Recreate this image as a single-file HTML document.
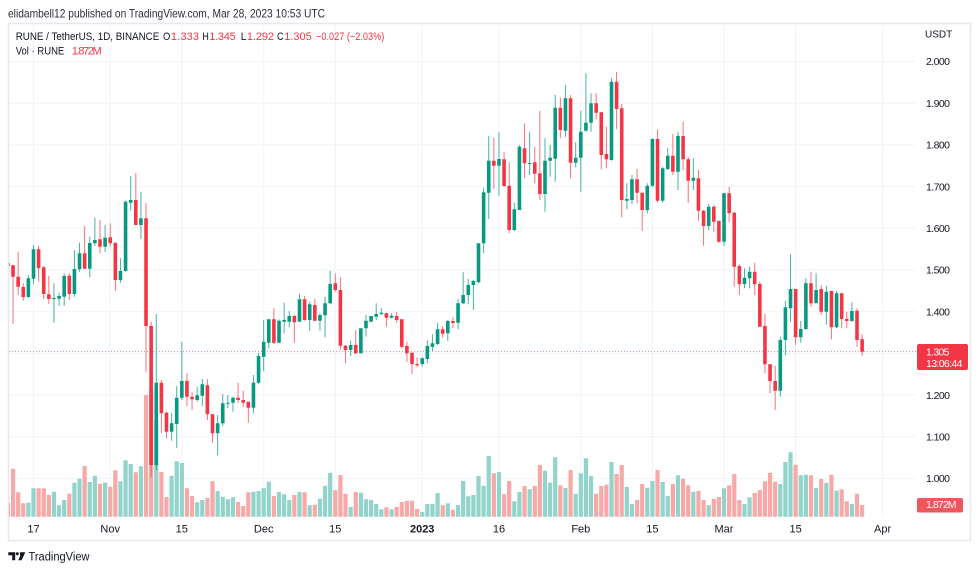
<!DOCTYPE html>
<html><head><meta charset="utf-8"><style>
html,body{margin:0;padding:0;background:#fff;width:980px;height:571px;overflow:hidden}
svg{display:block;font-family:"Liberation Sans",Arial,sans-serif}
</style></head><body>
<svg id="s" width="980" height="571" viewBox="0 0 980 571" xmlns="http://www.w3.org/2000/svg">
<rect width="980" height="571" fill="#fff"/>
<defs><clipPath id="pc"><rect x="9" y="24" width="907" height="493"/></clipPath></defs>
<g stroke="#f0f3fa" stroke-width="1">
<path d="M9 61.5H916M9 103.2H916M9 144.9H916M9 186.6H916M9 228.3H916M9 270H916M9 311.7H916M9 353.4H916M9 395.1H916M9 436.8H916M9 478.5H916"/>
<path d="M33.5 24V517M110.2 24V517M181.8 24V517M263.7 24V517M335.3 24V517M422.2 24V517M499 24V517M580.8 24V517M652.4 24V517M724 24V517M795.6 24V517M882.6 24V517"/>
</g>
<rect x="8.5" y="23.5" width="962" height="517" fill="none" stroke="#e6e8ee" stroke-width="1.5"/>
<g clip-path="url(#pc)">
<path id="vt" fill="#92d3cc"/>
<path id="vp" fill="#f7a9a7"/>
<path d="M9 351.5H916" stroke="#f23645" stroke-width="1" stroke-dasharray="1 2" opacity="0.55"/>
<path id="gw" stroke="#089981" stroke-width="1" fill="none" opacity="0.75"/>
<path id="rw" stroke="#f23645" stroke-width="1" fill="none" opacity="0.7"/>
<path id="gb" fill="#089981"/>
<path id="rb" fill="#f23645"/>
</g>
<g fill="#131722" font-size="10.5">
<text x="925" y="37.5" font-size="10">USDT</text>
<text x="926" y="65.2" textLength="24">2.000</text>
<text x="926" y="106.9" textLength="24">1.900</text>
<text x="926" y="148.6" textLength="24">1.800</text>
<text x="926" y="190.3" textLength="24">1.700</text>
<text x="926" y="232" textLength="24">1.600</text>
<text x="926" y="273.7" textLength="24">1.500</text>
<text x="926" y="315.4" textLength="24">1.400</text>
<text x="926" y="398.8" textLength="24">1.200</text>
<text x="926" y="440.5" textLength="24">1.100</text>
<text x="926" y="482.2" textLength="24">1.000</text>
</g>
<rect x="917" y="344" width="51" height="26" rx="2" fill="#f23645"/>
<text x="926" y="355.5" font-size="10.5" fill="#fff" textLength="23.5">1.305</text>
<text x="926" y="367" font-size="10.5" fill="#fff" textLength="36.5">13:06:44</text>
<rect x="917" y="498" width="46" height="14.5" rx="2" fill="#f0575d"/>
<text x="926" y="507.8" font-size="10.5" fill="#fff" textLength="30.5">1.872M</text>
<g fill="#131722" font-size="11" text-anchor="middle">
<text x="33.5" y="532.5">17</text>
<text x="110.2" y="532.5">Nov</text>
<text x="181.8" y="532.5">15</text>
<text x="263.7" y="532.5">Dec</text>
<text x="335.3" y="532.5">15</text>
<text x="422.2" y="532.5" font-weight="bold">2023</text>
<text x="499" y="532.5">16</text>
<text x="580.8" y="532.5">Feb</text>
<text x="652.4" y="532.5">15</text>
<text x="724" y="532.5">Mar</text>
<text x="795.6" y="532.5">15</text>
<text x="882.6" y="532.5">Apr</text>
</g>
<text x="8" y="17.5" font-size="12" fill="#2a2e39" textLength="317" lengthAdjust="spacingAndGlyphs">elidambell12 published on TradingView.com, Mar 28, 2023 10:53 UTC</text>
<g font-size="11" fill="#131722">
<text x="15.7" y="40" textLength="143.6" lengthAdjust="spacingAndGlyphs">RUNE / TetherUS, 1D, BINANCE</text>
<text x="163" y="40" textLength="7.3" lengthAdjust="spacingAndGlyphs">O</text><text x="170.9" y="40" fill="#f23645" textLength="28.1">1.333</text>
<text x="202.3" y="40" textLength="6.6" lengthAdjust="spacingAndGlyphs">H</text><text x="209.3" y="40" fill="#f23645" textLength="26.4">1.345</text>
<text x="240.8" y="40" textLength="5.6" lengthAdjust="spacingAndGlyphs">L</text><text x="246.9" y="40" fill="#f23645" textLength="27.1">1.292</text>
<text x="277" y="40" textLength="6.6" lengthAdjust="spacingAndGlyphs">C</text><text x="284.2" y="40" fill="#f23645" textLength="27.5">1.305</text>
<text x="316" y="40" fill="#f23645" textLength="68.3" lengthAdjust="spacingAndGlyphs">−0.027 (−2.03%)</text>
<text x="15.7" y="54.5" textLength="48.6" lengthAdjust="spacingAndGlyphs">Vol · RUNE</text>
<text x="71.7" y="54.5" fill="#f23645" textLength="30">1.872M</text>
</g>
<g fill="#131722">
<path d="M8.3 552.3H15.2V560.3H12.2V555.2H8.3Z"/>
<circle cx="17.3" cy="553.8" r="1.5"/>
<path d="M19.8 552.3H25.3L21.6 560.3H18.3L20.2 556Z"/>
<text x="28.5" y="560.5" font-size="11.5" textLength="61" lengthAdjust="spacingAndGlyphs">TradingView</text>
</g>
</svg>
<script>
(function(){
var C=[[-5,0,262,263,266,268],[-4,0,265,265.3,276.7,324],[-3,0,251.7,276.7,286.7,295],[-2,0,283.3,287,297,300.7],[-1,1,275,278.3,297,297.7],
[0,1,245,249.3,278.7,284],[1,0,245.7,249.3,268.3,281.7],[2,0,266,267.3,294,299.3],[3,0,276,294.3,299,304],[4,1,283.3,298,299,322.7],
[5,1,292.7,296,298.7,305.7],[6,1,273.3,276,296.7,305.7],[7,0,273.3,275.7,294,300],[8,1,250,269,294,296.7],[9,1,242.7,253.3,269.3,271.7],
[10,0,226,253.3,268.7,268.7],[11,1,236.7,243,268.7,277.3],[12,1,217.7,240,243.3,246],[13,0,220,239.3,246.7,253.3],[14,1,225,237.7,246.7,252],
[15,0,223.3,237.3,243.3,246.7],[16,0,242.7,242.7,280,290.7],[17,1,258.3,271,280,282.7],[18,1,200.7,201.7,271,271.7],[19,1,176,200,202.7,210.7],
[20,0,173.3,200,225,225],[21,1,191.7,218.3,225,239],[22,0,203,218.3,326,371.7],[23,0,321.7,326,465,476.7],[24,1,314,382.7,465,470],
[25,0,380,382.7,413.3,433.3],[26,0,411.7,412.7,431.7,438.3],[27,1,412.7,423.3,431.7,440.7],[28,1,386,397.7,424,447.7],[29,1,341.7,381,397.7,400],
[30,0,373.3,381,396.7,406],[31,0,391.7,396.7,399.3,410],[32,1,386.7,395.3,400,401.7],[33,1,379,384.3,395.7,406],[34,0,379.3,385.3,414.3,420],
[35,0,414.3,414.3,433.3,442.7],[36,1,415,423.3,433.3,455.3],[37,1,394.3,403.3,423.3,426],[38,1,395,402.7,403.3,408.3],[39,1,396.7,397.7,402.7,411.7],
[40,0,382.7,397.7,400,402.7],[41,0,390.7,400,402.7,406.7],[42,0,401.7,401.7,407.7,422.7],[43,1,375,382.7,407.7,413.3],[44,1,352.7,356,382.7,384.3],
[45,1,320,341.7,356.7,371],[46,1,319.3,319.3,342.7,348.3],[47,0,308.3,319.3,342.7,344],[48,1,319.3,320.7,342.7,343.3],[49,1,302.7,320,321.7,333.3],
[50,1,311,316,321.7,327.3],[51,0,315,316,322.3,342.7],[52,1,294,299.3,321.7,321.7],[53,0,296,299.3,320,320.7],[54,1,301.7,304.3,320,330.7],
[55,0,299,305,320.7,321.3],[56,1,313.3,315,320.7,330.7],[57,1,296.7,303.3,315.3,337.3],[58,1,270.7,284,303.3,304],[59,0,273.3,283.3,290,291.7],
[60,0,277.3,290,345.7,350],[61,0,345,345.7,350,363.3],[62,1,340.7,345,350,356],[63,0,330,345,353.3,354],[64,1,328.3,328.3,353.3,353.3],
[65,1,315,320.7,328.3,336.7],[66,1,316,316,321.7,321.7],[67,1,303.3,314,316.7,320],[68,1,308.3,312.7,314,315],[69,0,312.7,313.3,317.7,326.7],
[70,1,313.3,315.7,317.7,318.3],[71,0,311.7,316,320,322.7],[72,0,319.3,319.3,346.7,348.3],[73,0,341.7,346,353.3,361.7],[74,0,352.7,352.7,364,374],
[75,0,357.3,364,365.3,367.3],[76,1,357.3,358.3,364,366.7],[77,1,340,346,359,363.3],[78,1,334.3,343.3,346.7,351],[79,1,322.7,329.3,344,345],
[80,0,326,329.3,333.7,337.7],[81,1,320,321,333.3,341],[82,0,317.3,321,323,328.3],[83,1,299,303.3,322.7,329.3],[84,1,272.3,295,303.3,304.3],
[85,1,279,285,295,304.3],[86,1,280,281,285,310],[87,1,243.3,243.3,282.3,283.3],[88,1,187.7,192.3,243.3,253.3],[89,1,135.7,160.7,192.7,219],
[90,0,137.7,160.7,165.7,189],[91,1,132.3,159,165.7,195.7],[92,0,152.3,159.3,186,186.7],[93,0,162.3,185.7,230,233.3],[94,1,202.7,209.3,230,231],
[95,1,145,146.7,210,210],[96,0,123.3,148.3,163.3,178.3],[97,1,131.7,163,163.7,175],[98,0,146.7,162.3,173.7,183.3],[99,0,111,173.3,194,200],
[100,1,138.3,160.7,194,211.7],[101,1,145,157.7,160.7,176.7],[102,1,95,107.7,158.7,181.7],[103,0,97.3,107.7,130,138.3],[104,1,85,98.3,130.7,136.7],
[105,0,95,98.3,162.7,178.3],[106,1,142.3,157.7,162.7,167.3],[107,1,110.7,131.7,157.7,191.7],[108,1,73.3,122.7,130.7,131.7],[109,1,93.3,103.3,122.7,131.7],
[110,0,93.3,103.3,112.7,119.3],[111,0,111.7,112.3,155,169.3],[112,0,126.7,154,159.3,168.3],[113,1,78.3,81.7,160,160.7],[114,0,72,81.7,109,129],
[115,0,104,108.3,200,217.3],[116,1,183.3,199,200.7,209.3],[117,1,175,179.3,200,204],[118,0,169,179.3,192.7,203.3],[119,0,192.7,192.7,210,230.7],
[120,1,183.3,185.7,210,213.3],[121,1,138.3,139,185.7,186.7],[122,0,129.3,139,200.7,202.3],[123,1,166.7,168.3,200.7,202.7],[124,1,148.3,155.7,169,170],
[125,0,134,155.7,171.7,175],[126,1,131.7,136,171.7,190],[127,0,121.7,136,159.3,170],[128,0,156.7,159.3,180.7,202.7],[129,1,158.3,177.7,180.7,190],
[130,0,170,178.3,210.7,220.7],[131,0,210,210.7,226,245.7],[132,1,204,206.7,226,230],[133,0,205,206.7,221.7,231.7],[134,0,220,221,241.7,242.7],
[135,1,192.7,193.3,241.7,246],[136,0,186.7,193.3,213.3,222],[137,0,211.7,212.7,266.7,286.7],[138,0,264.3,266,284.3,295],[139,1,268.3,277.7,284,288.3],
[140,1,266.7,271.7,278.3,288.3],[141,0,262.7,271.7,284.3,295],[142,0,281.7,284,326.7,327.3],[143,0,314,326,364.3,373.3],[144,0,364.3,364.3,381,393.3],
[145,0,366,381,390.7,410],[146,1,336.7,340,390.7,396.7],[147,1,301,307.3,340,355],[148,1,254.3,289,308.3,321.7],[149,0,289,289,337.3,345],
[150,1,321,329,337.3,342.7],[151,1,278.3,283.3,329,330],[152,0,271.7,283.3,303.3,306.7],[153,1,273.3,290,303.3,303.3],[154,0,285,289,311.7,315],
[155,1,286,291.7,311.7,325],[156,0,290.7,291,327.3,339.3],[157,1,290.7,293.3,327.3,328.3],[158,0,292.7,293.3,319,328.3],[159,0,311.7,319,321,328.3],
[160,1,302.3,311,321,321.7],[161,0,308.3,310.7,340,346.7],[162,0,334.3,339.3,351.7,356]];
var V=[502.7,468.7,492.3,503.3,502.7,
488.3,488.3,488.3,495,491.7,505.3,500,493.7,482.7,478.7,466,482,475.7,483.7,482.7,486.7,470.3,481.3,460.3,464,472.3,466.3,395,390,420,
472,497,475.7,461.3,463,488.3,496,502.3,500,498,481.3,491,496.7,499.3,497.3,502,506,492.3,491.7,491,488.3,481.7,496,492,494.3,
500,495,492,492.3,505.3,504.7,498.7,485.7,472.7,490.3,475,493.7,507,492,492.7,499.3,500,504,509.3,507.3,509.3,507,502,500.7,500.7,509,
512,504,504,493,505.3,503.3,509.7,505,481,496.3,495,476,485.7,456,473.3,472,494.3,481,501.3,492,486,489.3,486,465,470.7,482.7,457.3,
485.3,488,470,494,473.3,458.3,476,493.7,486,484.7,462,474,465,487,504,500,484,487.7,481,470,482,496,484,475.3,478.7,485.3,491.7,491,
500,505.3,498.7,497,488.3,485.3,474,500,504,497.3,493,490,481.3,472.7,481.7,484,462,452.3,464.7,475.3,474.7,475.3,488,479,483,474.7,
490.7,489.3,501.3,504,493.7,505];
var gb="",rb="",gw="",rw="",vt="",vp="",B=516.7;
function f(n){return n.toFixed(2);}
for(var k=0;k<C.length;k++){
 var c=C[k],i=c[0],x=33.5+5.115*i;
 var bt=c[3],bb=c[4]; if(bb-bt<1){bb=bt+1;}
 var body="M"+f(x-1.8)+" "+f(bt)+"H"+f(x+1.8)+"V"+f(bb)+"H"+f(x-1.8)+"Z";
 var wick="M"+f(x)+" "+f(c[2])+"V"+f(c[5]);
 var vy=V[i+5];
 var vol="M"+f(x-2.1)+" "+f(vy)+"H"+f(x+2.1)+"V"+B+"H"+f(x-2.1)+"Z";
 if(c[1]){gb+=body;gw+=wick;vt+=vol;}else{rb+=body;rw+=wick;vp+=vol;}
}
document.getElementById("gb").setAttribute("d",gb);
document.getElementById("rb").setAttribute("d",rb);
document.getElementById("gw").setAttribute("d",gw);
document.getElementById("rw").setAttribute("d",rw);
document.getElementById("vt").setAttribute("d",vt);
document.getElementById("vp").setAttribute("d",vp);
})();
</script>
</body></html>
